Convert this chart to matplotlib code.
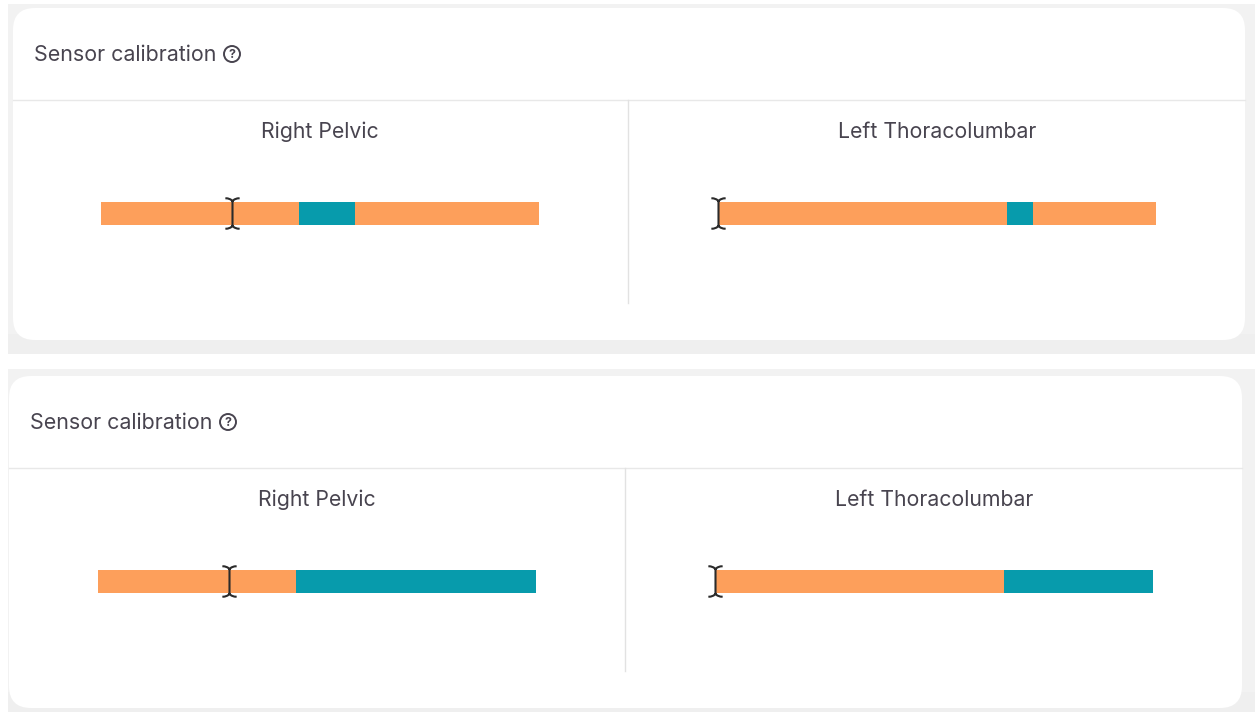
import matplotlib
matplotlib.use("Agg")
import matplotlib.pyplot as plt
from matplotlib.patches import FancyBboxPatch, Rectangle, Circle
from matplotlib.path import Path

titles = ["Right Pelvic", "Left Thoracolumbar"]
card_title = "Sensor calibration"

# segment widths in percent of the bar, first row = top card
top_orange_1 = [45.2, 66.0]
top_teal = [12.8, 6.0]
top_orange_2 = [42.0, 28.0]
bottom_orange = [45.1, 66.0]
bottom_teal = [54.9, 34.0]
marker_pos = [30.0, 0.0]

ORANGE = "#fd9f5b"
TEAL = "#079bac"
TEXT = "#48444f"
W, H = 1255, 712

cursor = Path(
    [(-7, 15), (-2, 15), (0, 12), (2, 15), (7, 15), (0, 12), (0, -12),
     (-7, -15), (-2, -15), (0, -12), (2, -15), (7, -15)],
    [Path.MOVETO, Path.CURVE3, Path.CURVE3, Path.CURVE3, Path.CURVE3, Path.MOVETO, Path.LINETO,
     Path.MOVETO, Path.CURVE3, Path.CURVE3, Path.CURVE3, Path.CURVE3],
)

plt.rcParams["font.family"] = ["Inter", "DejaVu Sans"]
fig = plt.figure(figsize=(W / 100, H / 100), dpi=100)
bg = fig.add_axes([0, 0, 1, 1])
bg.set_xlim(0, W)
bg.set_ylim(H, 0)
bg.axis("off")


def draw_bar(x0, x1, y0, y1, segments, marker):
    ax = fig.add_axes([x0 / W, 1 - y1 / H, (x1 - x0) / W, (y1 - y0) / H])
    left = 0
    for width, color in segments:
        ax.barh(0, width, left=left, height=1, color=color)
        left += width
    ax.set_xlim(0, 100)
    ax.set_ylim(-0.5, 0.5)
    ax.axis("off")
    ax.plot([marker], [0.02], marker=cursor, ms=22, mew=1.5, mec="#2b2b2b", mfc="none",
            clip_on=False, zorder=5)


def draw_card(band, card, div_y, div_x, div_end, offs, segs):
    bx0, by0, bx1, by1 = band
    bg.add_patch(Rectangle((bx0, by0), bx1 - bx0, by1 - by0, fc="#f2f2f2", ec="none"))
    bg.add_patch(Rectangle((bx0, by1 - 20), bx1 - bx0, 20, fc="#efefef", ec="none"))
    cx0, cy0, cx1, cy1 = card
    bg.add_patch(FancyBboxPatch((cx0 + 22, cy0 + 22), cx1 - cx0 - 44, cy1 - cy0 - 44,
                                boxstyle="round,pad=22,rounding_size=22", fc="white", ec="none"))
    bg.plot([cx0, cx1], [div_y, div_y], color="#e8e8e8", lw=1)
    bg.plot([div_x, div_x], [div_y, div_end], color="#e2e2e2", lw=1)
    bg.text(cx0 + 21, div_y - 45, card_title, fontsize=15.4, color=TEXT, va="center", ha="left")
    icon_x = cx0 + 219
    bg.add_patch(Circle((icon_x, div_y - 46), 8, fc="none", ec=TEXT, lw=1.4))
    bg.text(icon_x, div_y - 45.5, "?", fontsize=9, color=TEXT, ha="center", va="center", fontweight="bold")
    for i in range(2):
        bg.text(offs[i] + 219, div_y + 32, titles[i], fontsize=15.3, color=TEXT, ha="center", va="center")
        draw_bar(offs[i], offs[i] + 438, div_y + 102, div_y + 125, segs[i], marker_pos[i])


top_segs = [[(top_orange_1[i], ORANGE), (top_teal[i], TEAL), (top_orange_2[i], ORANGE)] for i in range(2)]
bottom_segs = [[(bottom_orange[i], ORANGE), (bottom_teal[i], TEAL)] for i in range(2)]

draw_card((8, 4, W, 354), (13, 8, 1245, 340), 100, 628, 303, [101, 718], top_segs)
draw_card((8, 369, W, H), (9, 376, 1242, 708), 468, 625, 671, [98, 715], bottom_segs)

fig.savefig("out.png", dpi=100)
